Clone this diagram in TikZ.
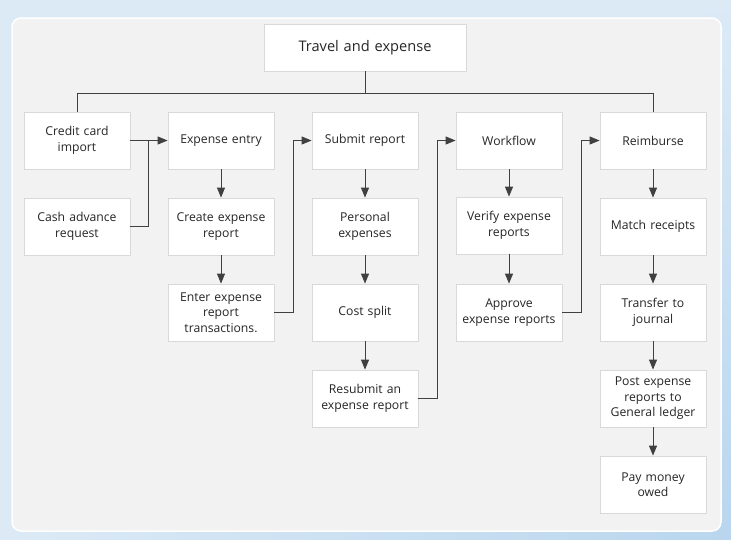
\documentclass[tikz,border=0pt]{standalone}
\usepackage{fontspec}
\setmainfont{Open Sans}
\usetikzlibrary{arrows.meta}
\definecolor{outerA}{HTML}{DCEAF6}
\definecolor{outerB}{HTML}{B9D6EE}
\definecolor{inner}{HTML}{F2F2F2}
\definecolor{boxline}{HTML}{D9D9D9}
\definecolor{ink}{HTML}{404040}
\definecolor{txt}{HTML}{262626}
\begin{document}
\begin{tikzpicture}[x=1pt,y=-1pt,
  box/.style={draw=boxline, line width=0.8pt, fill=white, minimum width=106pt, minimum height=57pt,
    text width=104pt, align=center, inner sep=0pt, text=txt, font=\fontsize{12.2}{15.5}\selectfont},
  titlebox/.style={box, minimum width=202pt, minimum height=47pt, text width=198pt, font=\fontsize{14.6}{17}\selectfont},
  link/.style={draw=ink, line width=1pt},
  arr/.style={link, -{Triangle[length=10pt,width=8pt]}}]
\useasboundingbox (0,0) rectangle (731,539);
\shade[top color=outerA, bottom color=outerB] (700,0) rectangle (731,539);
\shade[left color=outerA, right color=outerB] (0,520) rectangle (731,539);
\fill[outerA] (0,0) rectangle (705,525);
\draw[white, line width=1.5pt, fill=inner, rounded corners=9pt] (12,18) rectangle (721,531);

\node[titlebox] (title) at (365,47.5) {Travel and expense};

\node[box] (cc)   at (77,140.5)  {Credit card\\import};
\node[box] (cash) at (77,226.5)  {Cash advance\\request};

\node[box] (ee)   at (221,140.5) {Expense entry};
\node[box] (cer)  at (221,226.5) {Create expense\\report};
\node[box] (eert) at (221,312.5) {Enter expense\\report\\transactions.};

\node[box] (sub)  at (365,140.5) {Submit report};
\node[box] (pe)   at (365,226.5) {Personal\\expenses};
\node[box] (cs)   at (365,312.5) {Cost split};
\node[box] (res)  at (365,398.5) {Resubmit an\\expense report};

\node[box] (wf)   at (509,140.5) {Workflow};
\node[box] (ver)  at (509,225.5) {Verify expense\\reports};
\node[box] (app)  at (509,312.5) {Approve\\expense reports};

\node[box] (rei)  at (653,140.5) {Reimburse};
\node[box] (mr)   at (653,226.5) {Match receipts};
\node[box] (tj)   at (653,312.5) {Transfer to\\journal};
\node[box] (post) at (653,398.5) {Post expense\\reports to\\General ledger};
\node[box] (pay)  at (653,484.5) {Pay money\\owed};

\coordinate (bus) at (365,93);
\coordinate (j1) at (148,140.5);
\draw[link] (title.south) -- (bus);
\draw[link] (cc.north) -- (cc.north |- bus) -- (rei.north |- bus) -- (rei.north);

\draw[arr] (cc.east) -- (ee.west);
\draw[link] (cash.east) -| (j1);
\draw[arr] (ee) -- (cer);
\draw[arr] (cer) -- (eert);
\draw[arr] (eert.east) -- ++(19,0) |- (sub.west);

\draw[arr] (sub) -- (pe);
\draw[arr] (pe) -- (cs);
\draw[arr] (cs) -- (res);
\draw[arr] (res.east) -- ++(19,0) |- (wf.west);

\draw[arr] (wf) -- (ver);
\draw[arr] (ver) -- (app);
\draw[arr] (app.east) -- ++(19,0) |- (rei.west);

\draw[arr] (rei) -- (mr);
\draw[arr] (mr) -- (tj);
\draw[arr] (tj) -- (post);
\draw[arr] (post) -- (pay);
\end{tikzpicture}
\end{document}
